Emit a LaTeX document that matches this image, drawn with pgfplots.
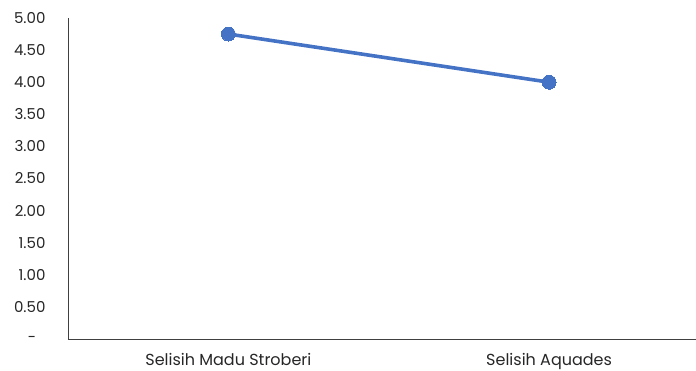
\documentclass[border=0pt]{standalone}
\usepackage{pgfplots}
\pgfplotsset{compat=1.18}
\usepackage{fontspec}
\setmainfont{Poppins}
\usetikzlibrary{calc}
\definecolor{lineblue}{HTML}{4472C4}
\begin{document}
\begin{tikzpicture}
\begin{axis}[
  scale only axis,
  width=628bp, height=321bp,
  xmin=-0.5, xmax=1.458,
  ymin=0, ymax=5,
  axis x line*=bottom, axis y line*=left,
  axis line style={black!75, line width=0.9bp},
  xtick={0,1},
  xticklabels={Selisih Madu Stroberi, Selisih Aquades},
  ytick={0,0.5,...,5},
  yticklabels={-\hphantom{0},0.50,1.00,1.50,2.00,2.50,3.00,3.50,4.00,4.50,5.00},
  major tick length=0pt,
  tick label style={text=black!85},
  yticklabel style={font=\fontsize{15bp}{17bp}\selectfont, xshift=-19bp},
  xticklabel style={font=\fontsize{16bp}{18bp}\selectfont, yshift=-11bp},
  /pgf/number format/assume math mode=true,
  clip=false,
]
\addplot[color=lineblue, line width=3.6bp, mark=*, mark size=7bp,
  mark options={fill=lineblue, draw=lineblue, line width=0pt}]
  coordinates {(0,4.75) (1,4.00)};
\end{axis}
\pgfresetboundingbox
\path[use as bounding box] ($(current axis.south west)+(-68bp,-32bp)$) rectangle ($(current axis.north east)+(0,18bp)$);
\end{tikzpicture}
\end{document}
